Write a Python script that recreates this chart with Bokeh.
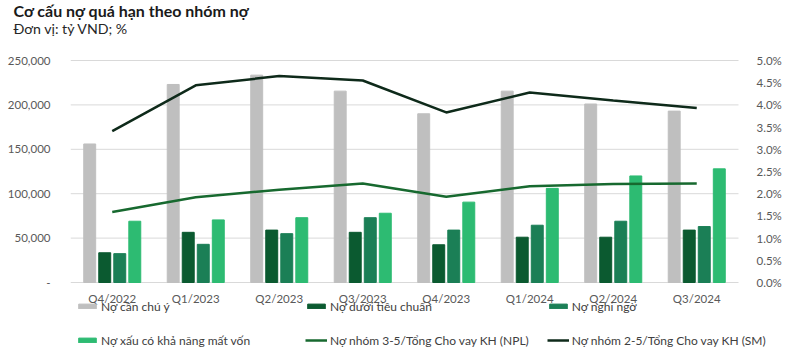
from bokeh.plotting import figure
from bokeh.models import (Range1d, LinearAxis, FixedTicker, CustomJSTickFormatter,
                          Legend, LegendItem, Title, ColumnDataSource)
from bokeh.core.properties import value
from bokeh.transform import dodge
from bokeh.embed import file_html
from bokeh.resources import INLINE

quarters = ["Q4/2022", "Q1/2023", "Q2/2023", "Q3/2023", "Q4/2023", "Q1/2024", "Q2/2024", "Q3/2024"]
no_can_chu_y = [156000, 223000, 233500, 215500, 190000, 215500, 201000, 193000]
no_duoi_tieu_chuan = [33500, 56500, 59000, 56500, 42500, 51000, 51000, 59000]
no_nghi_ngo = [32500, 43000, 55000, 73000, 59000, 64500, 69000, 63000]
no_mat_von = [69000, 70500, 73000, 78000, 90500, 106000, 120000, 128000]
npl = [1.59, 1.92, 2.09, 2.23, 1.93, 2.17, 2.22, 2.23]
sm = [3.41, 4.44, 4.65, 4.55, 3.83, 4.28, 4.10, 3.93]
left_ticks = [0, 50000, 100000, 150000, 200000, 250000]
right_ticks = [0, 0.5, 1.0, 1.5, 2.0, 2.5, 3.0, 3.5, 4.0, 4.5, 5.0]
left_max = 250000
right_max = 5.0

FONT = "Lato"
W, H = 800, 356
LEFT, RIGHT = 70, 738        # pixel columns where the category band starts / ends
TOP, ZERO = 60, 282          # pixel rows of the axis maximum and of zero
FRAME_TOP = 48               # frame starts a little higher so the top tick label is not clipped
below = (H - ZERO) / (ZERO - TOP)
above = (TOP - FRAME_TOP) / (ZERO - TOP)
n = len(quarters)
x_end = n * (W - LEFT) / (RIGHT - LEFT)

src = ColumnDataSource(dict(x=[i + 0.5 for i in range(n)], q=quarters,
                            a=no_can_chu_y, b=no_duoi_tieu_chuan, c=no_nghi_ngo,
                            d=no_mat_von, npl=npl, sm=sm, zero=[0] * n))
grid_src = ColumnDataSource(dict(y=left_ticks, x0=[0] * len(left_ticks), x1=[n] * len(left_ticks)))

p = figure(x_range=Range1d(0, x_end),
           y_range=Range1d(-left_max * below, left_max * (1 + above)),
           width=W, height=H, output_backend="svg", toolbar_location=None,
           x_axis_location=None,
           min_border_left=LEFT, min_border_right=0, min_border_top=0, min_border_bottom=0)
p.extra_y_ranges = {"pct": Range1d(-right_max * below, right_max * (1 + above))}
p.outline_line_color = None
p.background_fill_color = "white"
p.border_fill_color = "white"
p.xgrid.grid_line_color = None
p.ygrid.grid_line_color = None

col_grey = "#bfbfbf"
col_dark = "#0b5a30"
col_mid = "#1b7f56"
col_light = "#2dbb72"
col_npl = "#17692f"
col_sm = "#0e2a1a"

p.segment(x0="x0", x1="x1", y0="y", y1="y", source=grid_src, line_color="#d9d9d9", line_width=1)

w = 0.143
r_a = p.vbar(x=dodge("x", -0.27), top="a", width=w, source=src, color=col_grey)
r_b = p.vbar(x=dodge("x", -0.09), top="b", width=w, source=src, color=col_dark)
r_c = p.vbar(x=dodge("x", 0.09), top="c", width=w, source=src, color=col_mid)
r_d = p.vbar(x=dodge("x", 0.27), top="d", width=w, source=src, color=col_light)
r_npl = p.line(x="x", y="npl", y_range_name="pct", source=src, line_color=col_npl, line_width=2.5)
r_sm = p.line(x="x", y="sm", y_range_name="pct", source=src, line_color=col_sm, line_width=2.5)

p.text(x="x", y="zero", text="q", source=src, y_offset=16, text_align="center",
       text_baseline="middle", text_font=value(FONT), text_font_size=value("11.5px"),
       text_color="#595959")

ya = p.yaxis[0]
ya.ticker = FixedTicker(ticks=left_ticks)
ya.formatter = CustomJSTickFormatter(code="return tick == 0 ? '-' : tick.toLocaleString('en-US');")
ya.axis_line_color = None
ya.major_tick_line_color = None
ya.minor_tick_line_color = None
ya.major_label_standoff = 14
ya.major_label_text_font = FONT
ya.major_label_text_font_size = "11.5px"
ya.major_label_text_color = "#595959"

ra = LinearAxis(y_range_name="pct", ticker=FixedTicker(ticks=right_ticks), fixed_location=n,
                formatter=CustomJSTickFormatter(code="return tick.toFixed(1) + '%';"))
ra.axis_line_color = None
ra.major_tick_line_color = None
ra.minor_tick_line_color = None
ra.major_label_standoff = 12
ra.major_label_text_font = FONT
ra.major_label_text_font_size = "11.5px"
ra.major_label_text_color = "#595959"
p.add_layout(ra, "right")

legend = Legend(items=[
    LegendItem(label="Nợ cần chú ý", renderers=[r_a]),
    LegendItem(label="Nợ dưới tiêu chuẩn", renderers=[r_b]),
    LegendItem(label="Nợ nghi ngờ", renderers=[r_c]),
    LegendItem(label="Nợ xấu có khả năng mất vốn", renderers=[r_d]),
    LegendItem(label="Nợ nhóm 3-5/Tổng Cho vay KH (NPL)", renderers=[r_npl]),
    LegendItem(label="Nợ nhóm 2-5/Tổng Cho vay KH (SM)", renderers=[r_sm]),
], location=(6, 8), orientation="horizontal", ncols=3,
   glyph_width=22, glyph_height=6, label_standoff=3, label_width=186, label_height=16,
   spacing=18, padding=0, margin=0, border_line_alpha=0, background_fill_alpha=0,
   label_text_font=FONT, label_text_font_size="12px", label_text_color="#404040")
p.add_layout(legend, "center")

# titles (first added sits closest to the plot)
p.add_layout(Title(text=" ", standoff=9, text_font_size="1px"), "above")
p.add_layout(Title(text="Đơn vị: tỷ VND; %", align="left", offset=-57, standoff=0,
                   text_font=FONT, text_font_size="14.2px", text_font_style="normal",
                   text_color="#262626"), "above")
p.add_layout(Title(text="Cơ cấu nợ quá hạn theo nhóm nợ", align="left", offset=-57, standoff=-4,
                   text_font=FONT, text_font_size="16px", text_font_style="bold",
                   text_color="#1a1a1a"), "above")

open("out.html", "w").write(file_html(p, INLINE))
